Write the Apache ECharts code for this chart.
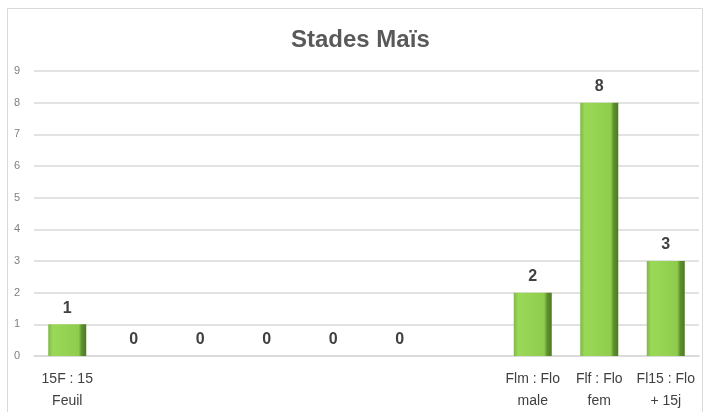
<!DOCTYPE html>
<html><head><meta charset="utf-8">
<script src="https://cdn.jsdelivr.net/npm/echarts@6/dist/echarts.min.js"></script>
<style>html,body{margin:0;padding:0;background:#fff}#c{width:704px;height:412px}</style>
</head><body><div id="c"></div>
<script>
var titleText = 'Stades Maïs';
var categories = ['15F : 15\nFeuil', '', '', '', '', '', '', 'Flm : Flo\nmale', 'Flf : Flo\nfem', 'Fl15 : Flo\n+ 15j'];
var values = [1, 0, 0, 0, 0, 0, null, 2, 8, 3];
var yTicks = {min: 0, max: 9, interval: 1};

var chart = echarts.init(document.getElementById('c'));
chart.setOption({
  animation: false,
  backgroundColor: '#fff',
  graphic: [{type: 'rect', shape: {x: 7.5, y: 8.5, width: 695, height: 410}, style: {fill: 'none', stroke: '#d9d9d9', lineWidth: 1}, z: -1}],
  title: {text: titleText, left: 286, top: 23,
    textStyle: {fontFamily: 'Liberation Sans', fontWeight: 'bold', fontSize: 24, color: '#595959'}},
  grid: {left: 34, right: 5, top: 71, bottom: 55, containLabel: false},
  xAxis: {type: 'category', data: categories,
    axisLine: {show: true, lineStyle: {color: '#d9d9d9', width: 1.5}},
    axisTick: {show: false},
    axisLabel: {interval: 0, color: '#404040', fontFamily: 'Liberation Sans Narrow, Liberation Sans', fontSize: 14, lineHeight: 22, margin: 12}},
  yAxis: {type: 'value', min: yTicks.min, max: yTicks.max, interval: yTicks.interval,
    axisLine: {show: false}, axisTick: {show: false},
    axisLabel: {color: '#808080', fontFamily: 'Liberation Sans', fontSize: 11, margin: 14},
    splitLine: {lineStyle: {color: '#d9d9d9', width: 1.5}}},
  series: [{type: 'bar', data: values, barWidth: 38,
    itemStyle: {
      color: new echarts.graphic.LinearGradient(0, 0, 1, 0, [
        {offset: 0, color: '#7fb846'}, {offset: 0.12, color: '#9ad957'},
        {offset: 0.8, color: '#8fcc4e'}, {offset: 0.88, color: '#5f8f2f'}, {offset: 1, color: '#4c7a24'}]),
      borderWidth: 0},
    label: {show: true, position: 'top', distance: 8, color: '#404040', fontFamily: 'Liberation Sans', fontWeight: 'bold', fontSize: 16,
      formatter: function (p) { return p.value == null ? '' : String(p.value); }}
  }]
});
</script></body></html>
